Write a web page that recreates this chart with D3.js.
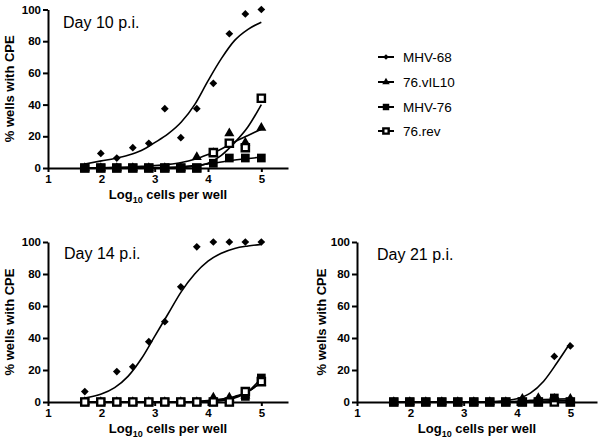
<!DOCTYPE html>
<html><head><meta charset="utf-8">
<script src="https://cdn.jsdelivr.net/npm/d3@7"></script>
<style>body{margin:0;background:#fff}svg{display:block}</style>
</head><body>
<svg id="c" width="600" height="445"></svg>
<script>
// ---------- data ----------
const xVals = [1.69, 1.99, 2.29, 2.59, 2.89, 3.19, 3.49, 3.79, 4.10, 4.40, 4.70, 5.00];
const fitX  = [1.69, 2.0, 2.25, 2.5, 2.75, 3.0, 3.25, 3.5, 3.75, 4.0, 4.25, 4.5, 4.75, 5.0];
const seriesNames = ["MHV-68", "76.vIL10", "MHV-76", "76.rev"];
const xTicks = [1, 2, 3, 4, 5];
const yTicks = [0, 20, 40, 60, 80, 100];
const panelTitles = ["Day 10 p.i.", "Day 14 p.i.", "Day 21 p.i."];

// Day 10
const d10_MHV68 = [0, 9.2, 6.3, 12.8, 15.6, 37.4, 19.1, 37.4, 53.4, 84.7, 97.2, 100];
const d10_vIL10 = [0, 0, 0, 0, 0, 0, 0, 6.9, 9.4, 21.9, 16, 25.4];
const d10_MHV76 = [0, 0, 0, 0, 0, 0, 0, 0, 3, 6.3, 6.3, 6.3];
const d10_rev   = [0, 0, 0, 0, 0, 0, 0, 0, 9.7, 15.6, 12.8, 44];
const d10fit_MHV68 = [2.5, 4.5, 6, 8, 11, 16, 21.5, 29, 40, 55, 69, 80.5, 87.5, 92];
const d10fit_vIL10 = [0.1, 0.2, 0.4, 0.6, 1.0, 1.5, 2.3, 3.5, 5.5, 8.5, 12, 16.5, 20.5, 24.5];
const d10fit_MHV76 = [0, 0, 0, 0, 0.1, 0.2, 0.4, 0.8, 1.5, 2.6, 3.8, 5.0, 6.0, 6.8];
const d10fit_rev   = [0, 0, 0, 0, 0, 0, 0.1, 0.3, 1.0, 3.0, 8, 16, 26, 40];

// Day 14
const d14_MHV68 = [6.5, 0, 19, 22, 37.7, 50.2, 72, 97, 100, 100, 100, 100];
const d14_vIL10 = [0, 0, 0, 0, 0, 0, 0, 0, 2.7, 2.7, 4, 12];
const d14_MHV76 = [0, 0, 0, 0, 0, 0, 0, 0, 0, 0, 3.5, 15];
const d14_rev   = [0, 0, 0, 0, 0, 0, 0, 0, 0, 0, 6.5, 12.7];
const d14fit_MHV68 = [2.5, 5, 9, 16, 27, 41, 55, 69, 80, 88, 93, 96, 97.5, 98.5];
const d14fit_vIL10 = [0, 0, 0, 0, 0, 0, 0, 0.1, 0.3, 0.9, 1.8, 3.5, 6.5, 12.5];
const d14fit_MHV76 = [0, 0, 0, 0, 0, 0, 0, 0, 0, 0.2, 0.8, 2.5, 6.5, 15];
const d14fit_rev   = [0, 0, 0, 0, 0, 0, 0, 0, 0.1, 0.4, 1.2, 3.0, 6.5, 12.5];

// Day 21
const d21_MHV68 = [0, 0, 0, 0, 0, 0, 0, 0, 0, 0, 28.5, 35];
const d21_vIL10 = [0, 0, 0, 0, 0, 0, 0, 0, 2, 2.5, 2, 2];
const d21_MHV76 = [0, 0, 0, 0, 0, 0, 0, 0, 0, 0, 2.5, 0];
const d21_rev   = [0, 0, 0, 0, 0, 0, 0, 0, 0, 0, 0, 0];
const d21fit_MHV68 = [0, 0, 0, 0, 0, 0, 0, 0.2, 0.8, 2, 5.5, 13, 24.5, 37];
const d21fit_vIL10 = [0, 0, 0, 0, 0, 0, 0, 0, 0.2, 0.5, 1, 1.5, 1.8, 2];
const d21fit_MHV76 = [0, 0, 0, 0, 0, 0, 0, 0, 0.1, 0.2, 0.4, 0.6, 0.8, 1];
const d21fit_rev   = [0, 0, 0, 0, 0, 0, 0, 0, 0, 0, 0, 0, 0, 0];

// ---------- layout ----------
const panels = [
  {title: panelTitles[0], pts: [d10_MHV68, d10_vIL10, d10_MHV76, d10_rev],
   fits: [d10fit_MHV68, d10fit_vIL10, d10fit_MHV76, d10fit_rev],
   x0: 48, x1: 288, yTop: 9.5, yBot: 168, titleDx: 15, titleDy: 18, ylabDx: 34, order: [0, 1, 3, 2]},
  {title: panelTitles[1], pts: [d14_MHV68, d14_vIL10, d14_MHV76, d14_rev],
   fits: [d14fit_MHV68, d14fit_vIL10, d14fit_MHV76, d14fit_rev],
   x0: 48, x1: 288, yTop: 242, yBot: 402, titleDx: 16, titleDy: 17, ylabDx: 34, order: [0, 1, 2, 3]},
  {title: panelTitles[2], pts: [d21_MHV68, d21_vIL10, d21_MHV76, d21_rev],
   fits: [d21fit_MHV68, d21fit_vIL10, d21fit_MHV76, d21fit_rev],
   x0: 357, x1: 597, yTop: 242, yBot: 402, titleDx: 20, titleDy: 18, ylabDx: 31, order: [0, 3, 1, 2]}
];

const svg = d3.select("#c");
const FONT = "Liberation Sans, Arial, sans-serif";

function marker(sel, kind, scale) {
  scale = scale || 1;
  if (kind === 0) {
    sel.append("path").attr("d", d3.symbol(d3.symbolSquare, 30 * scale)())
      .attr("transform", "rotate(45)").attr("fill", "#000");
  } else if (kind === 1) {
    sel.append("path").attr("d", d3.symbol(d3.symbolTriangle, 44 * scale)()).attr("fill", "#000");
  } else if (kind === 2) {
    sel.append("path").attr("d", d3.symbol(d3.symbolSquare, 76 * scale)()).attr("fill", "#000");
  } else {
    sel.append("path").attr("d", d3.symbol(d3.symbolSquare, 52 * scale)())
      .attr("fill", "#fff").attr("stroke", "#000").attr("stroke-width", 2.4);
  }
}

panels.forEach(p => {
  const x = d3.scaleLinear().domain([1, 5.5]).range([p.x0, p.x1]);
  const y = d3.scaleLinear().domain([0, 100]).range([p.yBot, p.yTop]);
  const g = svg.append("g");

  // axes
  const xa = g.append("g").attr("transform", `translate(0,${p.yBot})`)
    .call(d3.axisBottom(x).tickValues(xTicks).tickFormat(d3.format("d")).tickSize(4).tickSizeOuter(0));
  const ya = g.append("g").attr("transform", `translate(${p.x0},0)`)
    .call(d3.axisLeft(y).tickValues(yTicks).tickSize(5).tickSizeOuter(0));
  [xa, ya].forEach(a => {
    a.select(".domain").attr("stroke", "#000").attr("stroke-width", 2);
    a.selectAll(".tick line").attr("stroke", "#000").attr("stroke-width", 2);
    a.selectAll(".tick text").attr("font-family", FONT).attr("font-weight", "bold")
      .attr("font-size", 11.5).attr("fill", "#000");
  });
  xa.selectAll(".tick text").attr("dy", "0.71em").attr("y", 7);
  ya.selectAll(".tick text").attr("x", -7);

  // axis titles
  const xt = g.append("text").attr("x", (p.x0 + p.x1) / 2).attr("y", p.yBot + 31)
    .attr("text-anchor", "middle").attr("font-family", FONT).attr("font-weight", "bold")
    .attr("font-size", 13).attr("fill", "#000");
  xt.append("tspan").text("Log");
  xt.append("tspan").text("10").attr("font-size", 9).attr("dy", 4);
  xt.append("tspan").text(" cells per well").attr("dy", -4);

  g.append("text").attr("transform", `translate(${p.x0 - p.ylabDx},${(p.yTop + p.yBot) / 2}) rotate(-90)`)
    .attr("text-anchor", "middle").attr("font-family", FONT).attr("font-weight", "bold")
    .attr("font-size", 13).attr("fill", "#000").text("% wells with CPE");

  // panel title
  g.append("text").attr("x", p.x0 + p.titleDx).attr("y", p.yTop + p.titleDy)
    .attr("font-family", FONT).attr("font-size", 16).attr("fill", "#000").text(p.title);

  // fitted curves
  const line = d3.line().x((d, i) => x(fitX[i])).y(d => y(d)).curve(d3.curveMonotoneX);
  p.fits.forEach(f => {
    g.append("path").attr("d", line(f)).attr("fill", "none")
      .attr("stroke", "#000").attr("stroke-width", 1.6);
  });

  // points
  p.order.forEach(k => {
    p.pts[k].forEach((v, i) => {
      const m = g.append("g").attr("transform", `translate(${x(xVals[i])},${y(v)})`);
      marker(m, k);
    });
  });
});

// legend
const lg = svg.append("g");
const legY = [57, 82, 107, 131];
seriesNames.forEach((name, k) => {
  const r = lg.append("g").attr("transform", `translate(386,${legY[k]})`);
  r.append("line").attr("x1", -8).attr("x2", 8).attr("stroke", "#000").attr("stroke-width", 2);
  marker(r, k, 0.55);
  r.append("text").attr("x", 17).attr("y", 5).attr("font-family", FONT)
    .attr("font-size", 13.5).attr("fill", "#000").text(name);
});
</script>
</body></html>
